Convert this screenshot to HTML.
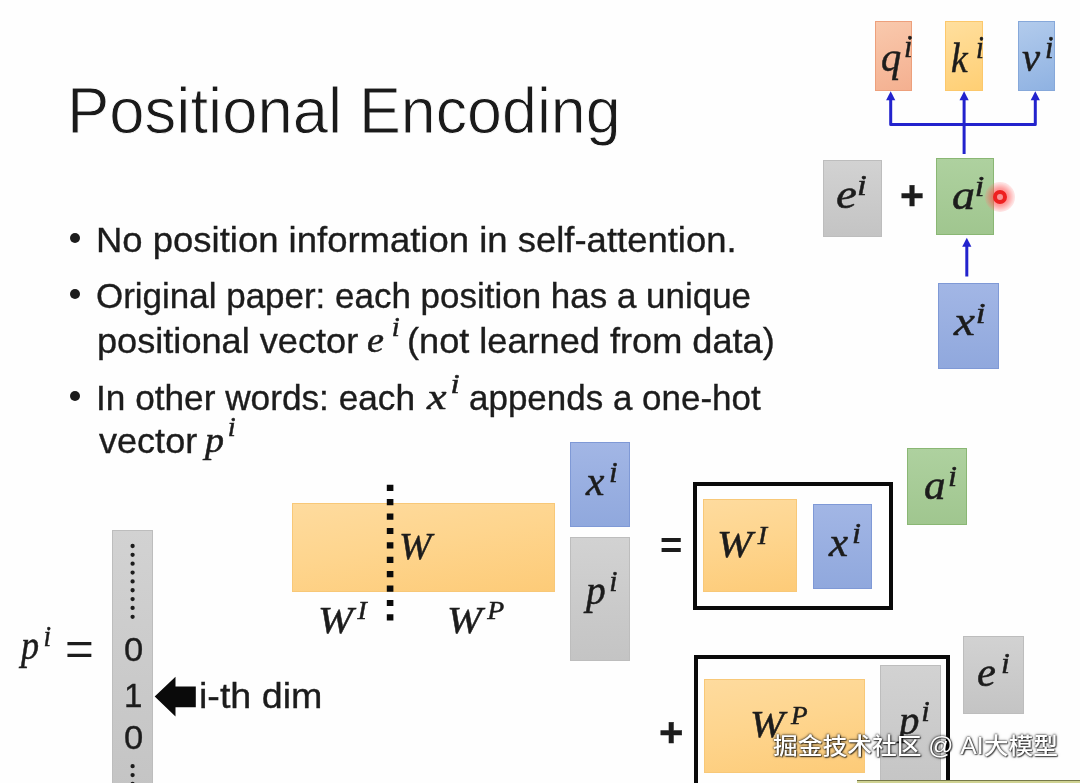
<!DOCTYPE html>
<html lang="en">
<head>
<meta charset="utf-8">
<title>Positional Encoding</title>
<style>
  html, body { margin: 0; padding: 0; }
  body { width: 1080px; height: 783px; overflow: hidden; background: #fefefe; position: relative; }
  #slide { position: absolute; left: -10px; top: -10px; width: 1100px; height: 810px; background: #fefefe; filter: blur(0.7px); }
  #inner { position: absolute; left: 10px; top: 10px; width: 1080px; height: 800px; }
  .s, .m, .title, .wm { position: absolute; white-space: nowrap; line-height: 1; transform-origin: 0 0; margin: 0; padding: 0; }
  .s { font-family: "Liberation Sans", sans-serif; color: #1c1c1c; font-size: 35px; -webkit-text-stroke: 0.35px #1c1c1c; }
  .title { font-family: "Liberation Sans", sans-serif; color: #1a1a1a; font-size: 64px; font-weight: 400; -webkit-text-stroke: 0.9px #fefefe; }
  .m { font-family: "Liberation Serif", serif; font-style: italic; color: #1c1c1c; font-size: 40px; -webkit-text-stroke: 0.5px #1c1c1c; }
  .m sup { font-size: 75%; vertical-align: baseline; position: relative; top: -0.43em; line-height: 0; }
  .m sup.c { font-size: 66%; top: -0.54em; }
  .m.il { font-size: 35px; }
  .m.il sup { top: -0.61em; }
  .box { position: absolute; box-sizing: border-box; }
  .dot { position: absolute; width: 10px; height: 10px; border-radius: 50%; background: #1c1c1c; }
  .orange { background: linear-gradient(170deg, #fedb9e 0%, #fed58e 45%, #fdcb78 100%); border: 1px solid #f8c878; }
  .blue { background: linear-gradient(180deg, #a2b6e5 0%, #90a8dd 100%); border: 1px solid #7f99d6; }
  .gray { background: linear-gradient(180deg, #d2d2d2 0%, #c4c4c4 100%); border: 1px solid #bdbdbd; }
  .green { background: linear-gradient(180deg, #aed19f 0%, #a0c68f 100%); border: 1px solid #8ab774; }
  .salmon { background: linear-gradient(160deg, #f9c9ad 0%, #f4b090 100%); border: 1px solid #eda07c; }
  .yellow { background: linear-gradient(160deg, #ffdf9e 0%, #ffcf74 100%); border: 1px solid #fcc86c; }
  .sky { background: linear-gradient(160deg, #b2cbec 0%, #8fb2e2 100%); border: 1px solid #86a8da; }
  .frame { position: absolute; box-sizing: border-box; border: 4px solid #0a0a0a; background: #fefefe; }
  .wm { font-family: "Liberation Sans", "Noto Sans CJK SC", sans-serif; font-weight: 500; font-size: 23px; color: #ffffff; text-shadow: 0 0 2px rgba(0,0,0,0.85), 0 0 3px rgba(0,0,0,0.6), 1px 1px 1px rgba(0,0,0,0.55); }
  svg { position: absolute; left: 0; top: 0; overflow: visible; }
</style>
</head>
<body>
<div id="slide"><div id="inner">

  <!-- Title -->
  <h1 class="title" id="title" style="left:67.4px; top:79.0px; transform:scaleX(0.9913);">Positional</h1>
  <div class="title" id="title2" style="left:358.9px; top:79.0px; transform:scaleX(0.9803);">Encoding</div>

  <!-- Bullets -->
  <div class="dot" style="left:69.7px; top:232.8px;"></div>
  <div class="dot" style="left:69.7px; top:288.8px;"></div>
  <div class="dot" style="left:69.7px; top:390.7px;"></div>

  <div class="s" id="l1" style="left:96.1px; top:222.2px; transform:scaleX(1.0421);">No position information in self-attention.</div>
  <div class="s" id="l2" style="left:96.1px; top:278.2px; transform:scaleX(0.9990);">Original paper: each position has a unique</div>
  <div class="s" id="l3a" style="left:97.1px; top:322.6px; transform:scaleX(1.0329);">positional vector</div>
  <div class="m il" id="l3m" style="left:366.5px; top:322.5px; transform:scaleX(1.0921);"><span>e</span><sup style="margin-left:7.04px">i</sup></div>
  <div class="s" id="l3b" style="left:406.7px; top:322.6px; transform:scaleX(1.0328);">(not learned from data)</div>
  <div class="s" id="l4a" style="left:95.7px; top:380.1px; transform:scaleX(1.0059);">In other words: each</div>
  <div class="m il" id="l4m" style="left:427.2px; top:379.7px; transform:scaleX(1.2577);"><span>x</span><sup style="margin-left:3.11px">i</sup></div>
  <div class="s" id="l4b" style="left:469.0px; top:380.1px; transform:scaleX(0.9991);">appends a one-hot</div>
  <div class="s" id="l5a" style="left:98.6px; top:423.0px; transform:scaleX(1.0303);">vector</div>
  <div class="m il" id="l5m" style="left:205.0px; top:423.1px; transform:scaleX(1.0861);"><span>p</span><sup style="margin-left:3.50px">i</sup></div>

  <!-- Top-right diagram -->
  <div class="box salmon" style="left:874.5px; top:21.4px; width:37.6px; height:69.3px;"></div>
  <div class="box yellow" style="left:945.1px; top:21.4px; width:37.9px; height:69.3px;"></div>
  <div class="box sky" style="left:1017.6px; top:21.4px; width:37.6px; height:69.3px;"></div>
  <div class="m" id="tq" style="left:880.5px; top:36.0px; font-size:42px; transform:scaleX(0.9617);"><span>q</span><sup style="margin-left:2.97px">i</sup></div>
  <div class="m" id="tk" style="left:950.9px; top:36.6px; font-size:42px; transform:scaleX(0.8924);"><span>k</span><sup style="margin-left:9.22px">i</sup></div>
  <div class="m" id="tv" style="left:1022.4px; top:36.3px; font-size:42px; transform:scaleX(0.9696);"><span>v</span><sup style="margin-left:4.96px">i</sup></div>

  <svg width="1080" height="783" viewBox="0 0 1080 783">
    <g fill="none" stroke="#2323cd" stroke-width="3" stroke-linejoin="round">
      <path d="M890.7 98 V124.6 H1035.3 V98"/>
      <path d="M964.1 98 V154"/>
      <path d="M966.8 276.5 V245"/>
    </g>
    <g fill="#2323cd" stroke="none">
      <path d="M890.7 91.2 L895.3 100.2 H886.1 Z"/>
      <path d="M964.1 91.2 L968.7 100.2 H959.5 Z"/>
      <path d="M1035.3 91.2 L1039.9 100.2 H1030.7 Z"/>
      <path d="M966.8 237.8 L971.4 246.8 H962.2 Z"/>
    </g>
  </svg>

  <div class="box gray" style="left:823.2px; top:159.5px; width:59px; height:77.2px;"></div>
  <div class="box green" style="left:935.6px; top:158.3px; width:58.8px; height:77.2px;"></div>
  <div class="box blue" style="left:938.2px; top:282.6px; width:60.4px; height:86.6px;"></div>
  <div class="m" id="te" style="left:836.0px; top:174.5px; transform:scaleX(1.1747);"><span>e</span><sup style="margin-left:0.18px">i</sup></div>
  <div class="m" id="ta" style="left:951.9px; top:176.1px; transform:scaleX(1.1473);"><span>a</span><sup style="margin-left:-0.07px">i</sup></div>
  <div class="m" id="tx" style="left:954.2px; top:302.4px; transform:scaleX(1.1774);"><span>x</span><sup style="margin-left:0.79px">i</sup></div>
  <!-- plus sign -->
  <div class="s" id="plus1" style="left:899.5px; top:175px; font-weight:bold; font-size:40px; transform:scaleX(1.0309);">+</div>

  <!-- laser pointer -->
  <div class="box" style="left:985.2px; top:182.2px; width:30px; height:30px; border-radius:50%; background: radial-gradient(circle, rgba(255,60,60,0.75) 0%, rgba(255,80,80,0.55) 40%, rgba(255,120,120,0.22) 66%, rgba(255,150,150,0) 100%);"></div>
  <div class="box" style="left:993px; top:190px; width:14.4px; height:14.4px; border-radius:50%; border:4.7px solid #ee2020; background:#f79494;"></div>

  <!-- bottom-left one-hot vector -->
  <div class="box gray" style="left:112.4px; top:529.6px; width:40.3px; height:262px;"></div>
  <div class="m" id="tp0" style="left:21.0px; top:625.9px; transform:scaleX(0.9027);"><span>p</span><sup style="margin-left:4.92px">i</sup></div>
  <div class="s" id="eq0" style="left:64.6px; top:625.1px; font-size:47px; -webkit-text-stroke:0; transform:scaleX(1.0486);">=</div>
  <svg width="1080" height="783" viewBox="0 0 1080 783">
    <line x1="132.6" y1="546" x2="132.6" y2="617" stroke="#1c1c1c" stroke-width="4.3" stroke-linecap="round" stroke-dasharray="0 8.85"/>
    <line x1="132.6" y1="766.2" x2="132.6" y2="790" stroke="#1c1c1c" stroke-width="4.3" stroke-linecap="round" stroke-dasharray="0 8.85"/>
    <path d="M154.7 696.6 L175.5 676.7 V686.5 H195.8 V707.3 H175.5 V716.5 Z" fill="#0a0a0a"/>
  </svg>
  <div class="s" id="z0" style="left:124.0px; top:633.5px; font-size:32.5px; transform:scaleX(1.0635);">0</div>
  <div class="s" id="z1" style="left:124.0px; top:679.5px; font-size:32.5px; transform:scaleX(1.0195);">1</div>
  <div class="s" id="z2" style="left:124.0px; top:722.3px; font-size:32.5px; transform:scaleX(1.0635);">0</div>
  <div class="s" id="ith" style="left:199.1px; top:678.2px; transform:scaleX(1.0748);">i-th dim</div>

  <!-- W matrix -->
  <div class="box orange" style="left:292.3px; top:502.8px; width:262.9px; height:89.4px;"></div>
  <svg width="1080" height="783" viewBox="0 0 1080 783">
    <line x1="390.1" y1="484.7" x2="390.1" y2="621" stroke="#0a0a0a" stroke-width="6.6" stroke-dasharray="6.2 8.2"/>
  </svg>
  <div class="m" id="tW" style="left:399.3px; top:527.1px; font-size:38.5px; transform:scaleX(1.0127);">W</div>
  <div class="m" id="tWI" style="left:318.0px; top:600.7px; font-size:38.5px; transform:scaleX(1.0914);"><span>W</span><sup class="c" style="margin-left:4.00px">I</sup></div>
  <div class="m" id="tWP" style="left:446.9px; top:600.7px; font-size:38.5px; transform:scaleX(1.0918);"><span>W</span><sup class="c" style="margin-left:4.71px">P</sup></div>

  <div class="box blue" style="left:569.5px; top:442.4px; width:60px; height:84.9px;"></div>
  <div class="box gray" style="left:569.5px; top:537.1px; width:60px; height:123.5px;"></div>
  <div class="m" id="tx2" style="left:586.1px; top:461.5px; transform:scaleX(1.0379);"><span>x</span><sup style="margin-left:4.33px">i</sup></div>
  <div class="m" id="tp2" style="left:586.2px; top:571.0px; transform:scaleX(0.9851);"><span>p</span><sup style="margin-left:3.50px">i</sup></div>

  <!-- equals sign -->
  <div class="s" id="eq1" style="left:659.8px; top:527.3px; font-size:37.7px; font-weight:bold; -webkit-text-stroke:0; transform:scaleX(1.0158);">=</div>

  <!-- first frame -->
  <div class="frame" style="left:693.3px; top:482px; width:199.5px; height:128.4px;"></div>
  <div class="box orange" style="left:702.9px; top:499px; width:93.9px; height:93.2px;"></div>
  <div class="box blue" style="left:812.5px; top:503.6px; width:59.8px; height:85.2px;"></div>
  <div class="m" id="tWI2" style="left:716.9px; top:525.4px; font-size:38.5px; transform:scaleX(1.1007);"><span>W</span><sup class="c" style="margin-left:5.06px">I</sup></div>
  <div class="m" id="tx3" style="left:828.7px; top:522.6px; transform:scaleX(1.0773);"><span>x</span><sup style="margin-left:3.67px">i</sup></div>
  <div class="box green" style="left:906.7px; top:447.7px; width:60.8px; height:77.8px;"></div>
  <div class="m" id="ta2" style="left:923.5px; top:465.5px; transform:scaleX(1.0772);"><span>a</span><sup style="margin-left:2.33px">i</sup></div>

  <!-- second frame -->
  <div class="frame" style="left:694.2px; top:654.6px; width:255.5px; height:140px;"></div>
  <div class="box orange" style="left:704.4px; top:678.8px; width:161px; height:93.8px;"></div>
  <div class="box gray" style="left:880.4px; top:665px; width:60.4px; height:130px;"></div>
  <div class="m" id="tWP2" style="left:750.0px; top:705.4px; font-size:38.5px; transform:scaleX(1.0696);"><span>W</span><sup class="c" style="margin-left:6.24px">P</sup></div>
  <div class="m" id="tp3" style="left:899.2px; top:701.0px; transform:scaleX(1.0210);"><span>p</span><sup style="margin-left:1.78px">i</sup></div>
  <div class="box gray" style="left:962.6px; top:636.1px; width:61.2px; height:77.6px;"></div>
  <div class="m" id="te2" style="left:977.1px; top:652.9px; transform:scaleX(1.0594);"><span>e</span><sup style="margin-left:5.01px">i</sup></div>
  <div class="s" id="plus2" style="left:659.1px; top:711.5px; font-weight:bold; font-size:40px; transform:scaleX(1.0500);">+</div>

  <!-- bottom strip -->
  <div class="box" style="left:856.5px; top:780.3px; width:230px; height:6px; background:#cfd292; border-top:1px solid #77794a;"></div>


</div></div>
<!-- watermark (crisp overlay) -->
<div class="wm" id="wm" style="left:772.9px; top:735px; transform:scaleX(1.0760);">掘金技术社区 @ AI大模型</div>
</body>
</html>
